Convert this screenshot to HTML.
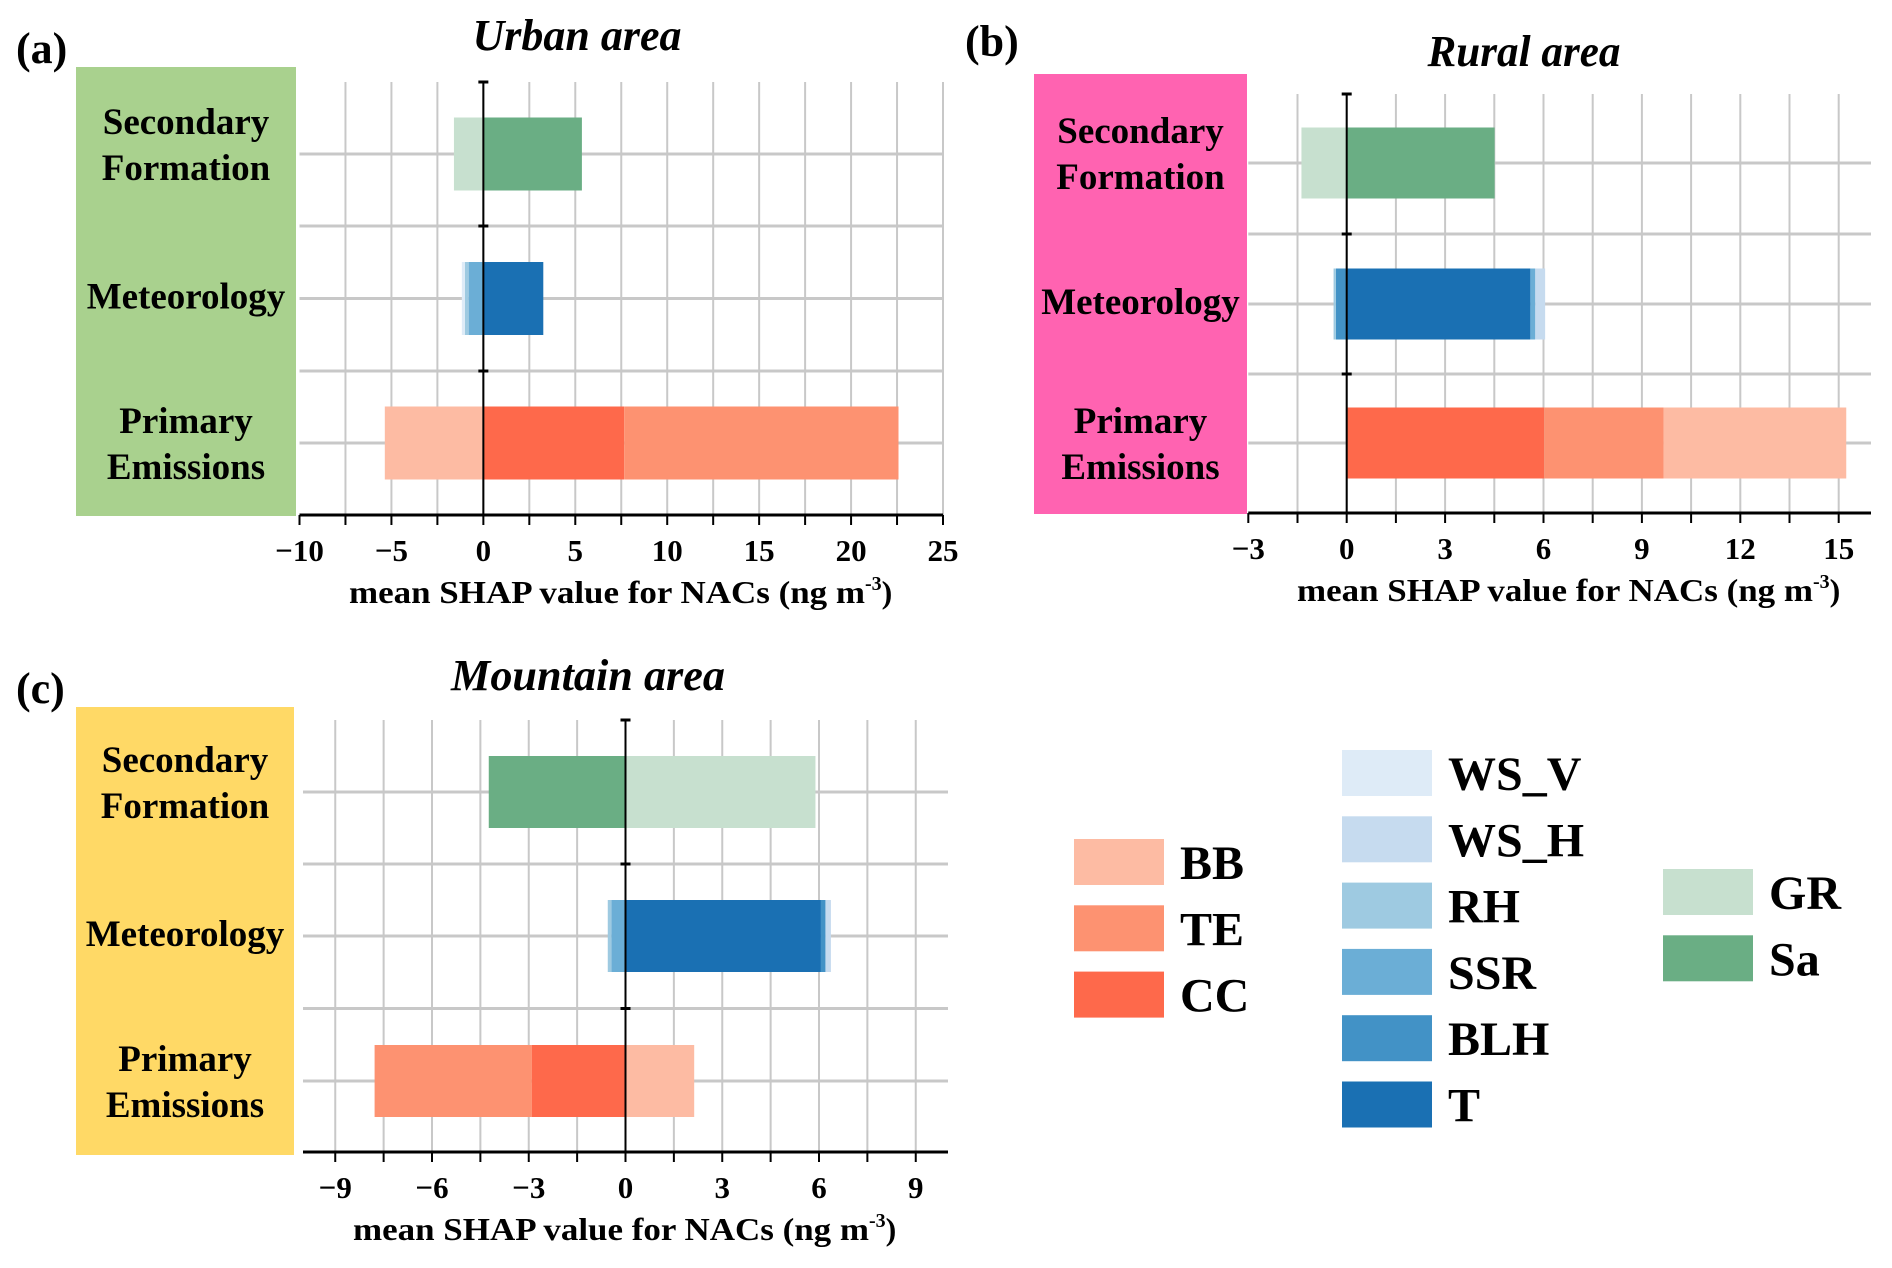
<!DOCTYPE html>
<html><head><meta charset="utf-8"><style>
html,body{margin:0;padding:0;background:#fff;}
svg{display:block;}
svg text{font-family:"Liberation Serif","Times New Roman",Times,serif;font-weight:bold;}
</style></head><body>
<svg id="fig" width="1892" height="1268" viewBox="0 0 1892 1268" xmlns="http://www.w3.org/2000/svg">
<g id="legend"></g>
</svg>
<script>
// ---- data ----
const categories = ["Secondary Formation", "Meteorology", "Primary Emissions"];
const seriesNames = {
  sec: ["Sa", "GR"],
  met: ["T", "BLH", "SSR", "RH", "WS_H", "WS_V"],
  pri: ["CC", "TE", "BB"]
};
const urbanSec = [5.36, -1.6];
const urbanMet = [3.26, 0, -0.8, -0.2, 0, -0.17];
const urbanPri = [7.66, 14.92, -5.36];
const ruralSec = [4.51, -1.38];
const ruralMet = [5.6, -0.33, 0.15, -0.07, 0.3, 0];
const ruralPri = [6.02, 3.64, 5.57];
const mountSec = [-4.24, 5.89];
const mountMet = [6.06, 0.14, -0.44, -0.11, 0.17, 0];
const mountPri = [-2.91, -4.87, 2.13];
const urbanTicks = [-10, -5, 0, 5, 10, 15, 20, 25];
const ruralTicks = [-3, 0, 3, 6, 9, 12, 15];
const mountTicks = [-9, -6, -3, 0, 3, 6, 9];

const colors = {Sa:"#6aae84",GR:"#c7e0cf",T:"#1a70b3",BLH:"#4292c6",SSR:"#6baed6",RH:"#9ecae1",WS_H:"#c6dbef",WS_V:"#deebf7",CC:"#fe694b",TE:"#fd9271",BB:"#fdbba3"};
const FONT = '"Liberation Serif","Times New Roman",Times,serif';

const NS = "http://www.w3.org/2000/svg";
const svg = document.getElementById("fig");
function el(tag, attrs, parent, text){
  const e = document.createElementNS(NS, tag);
  for (const k in attrs) e.setAttribute(k, attrs[k]);
  if (tag === "text") { e.setAttribute("font-family", FONT); e.setAttribute("font-weight", "bold"); }
  if (text !== undefined) e.textContent = text;
  (parent || svg).appendChild(e);
  return e;
}

function panel(cfg){
  const g = el("g", {});
  
  
  const sx = v => cfg.px0 + (v - cfg.d0) * (cfg.px1 - cfg.px0) / (cfg.d1 - cfg.d0);
  const box = el("rect", {x:cfg.box[0], y:cfg.box[1], width:cfg.box[2]-cfg.box[0], height:cfg.box[3]-cfg.box[1], fill:cfg.boxColor}, g);
  
  
  for (let v = cfg.gridStart; v <= cfg.gridEnd + 1e-6; v += cfg.minor) {
    const l = el("line", {x1:sx(v), x2:sx(v), y1:cfg.top, y2:cfg.axisY, stroke:"#c8c8c8", "stroke-width":2}, g);
    
    
  }
  const hy = [cfg.centers[0], cfg.seps[0], cfg.centers[1], cfg.seps[1], cfg.centers[2]];
  hy.forEach(y => {
    const l = el("line", {x1:cfg.hx0, x2:cfg.hx1, y1:y, y2:y, stroke:"#c8c8c8", "stroke-width":3}, g);
    
    
  });
  const groups = [[cfg.sec, seriesNames.sec], [cfg.met, seriesNames.met], [cfg.pri, seriesNames.pri]];
  groups.forEach((grp, ci) => {
    let pos = 0, neg = 0;
    grp[0].forEach((v, i) => {
      if (v === 0) return;
      let a, b;
      if (v > 0) { a = pos; b = pos + v; pos = b; } else { a = neg + v; b = neg; neg = a; }
      const r = el("rect", {x:sx(a), y:cfg.centers[ci]-cfg.half, width:Math.max(0, sx(b)-sx(a)), height:cfg.half*2, fill:colors[grp[1][i]]}, g);
      
      
    });
  });
  const z = el("line", {x1:sx(0), x2:sx(0), y1:cfg.top, y2:cfg.axisY, stroke:"#000", "stroke-width":2}, g);
  
  
  [cfg.top, cfg.seps[0], cfg.seps[1]].forEach(y => {
    const t = el("line", {x1:sx(0)-5, x2:sx(0)+5, y1:y, y2:y, stroke:"#000", "stroke-width":3}, g);
    
    
  });
  const ax = el("line", {x1:cfg.hx0, x2:cfg.hx1, y1:cfg.axisY, y2:cfg.axisY, stroke:"#000", "stroke-width":3}, g);
  
  
  for (let v = cfg.tickStart; v <= cfg.d1 + 1e-6; v += cfg.minor) {
    const t = el("line", {x1:sx(v), x2:sx(v), y1:cfg.axisY, y2:cfg.axisY+10, stroke:"#000", "stroke-width":2}, g);
    
    
  }
  cfg.ticks.forEach(v => {
    const t = el("text", {x:sx(v), y:cfg.axisY+46, "text-anchor":"middle", "font-size":31}, g, (v < 0 ? "\u2212" + (-v) : String(v)));
    
    
  });
  const at = el("text", {x:cfg.titleX - 271, y:cfg.axisY+88, "font-size":32}, g);
  
  
  el("tspan", {textLength:516, lengthAdjust:"spacingAndGlyphs"}, at, "mean SHAP value for NACs (ng m");
  el("tspan", {dy:-13, "font-size":20}, at, "-3");
  el("tspan", {dy:13}, at, ")");
  const pt = el("text", {x:cfg.titleCX - cfg.titleW/2, y:cfg.titleY, "font-size":44, "font-style":"italic", textLength:cfg.titleW, lengthAdjust:"spacingAndGlyphs"}, g, cfg.title);
  
  
  const pl = el("text", {x:cfg.letterX, y:cfg.letterY, "font-size":44}, g, cfg.letter);
  
  
  const bx = (cfg.box[0] + cfg.box[2]) / 2;
  const lines = [["Secondary", "Formation"], ["Meteorology"], ["Primary", "Emissions"]];
  const offs = [-20, 10, -10];
  lines.forEach((ls, ci) => {
    const c = cfg.centers[ci];
    ls.forEach((s, k) => {
      const y = c + offs[ci] + k * 46;
      const t = el("text", {x:bx, y:y, "text-anchor":"middle", "font-size":37}, g, s);
      
      
    });
  });
}

panel({name:"urban-panel", title:"Urban area", titleW:209, letter:"(a)", letterX:16, letterY:63, titleCX:577, titleY:50,
  box:[76,67,296,516], boxColor:"#a9d18e", d0:-10, d1:25, px0:299.5, px1:943, hx0:299.5, hx1:943,
  gridStart:-7.5, gridEnd:25, tickStart:-10, minor:2.5, ticks:urbanTicks, top:82, axisY:515,
  centers:[154,298.5,443], seps:[226,371], half:36.5, titleX:620,
  sec:urbanSec, met:urbanMet, pri:urbanPri});
panel({name:"rural-panel", title:"Rural area", titleW:193, letter:"(b)", letterX:965, letterY:56, titleCX:1524, titleY:66,
  box:[1034,74,1247,514], boxColor:"#ff63b1", d0:-3, d1:16, px0:1248.3, px1:1871.5, hx0:1248.3, hx1:1871,
  gridStart:-1.5, gridEnd:15, tickStart:-3, minor:1.5, ticks:ruralTicks, top:94, axisY:513,
  centers:[163,304,443], seps:[234,374], half:35.5, titleX:1568,
  sec:ruralSec, met:ruralMet, pri:ruralPri});
panel({name:"mountain-panel", title:"Mountain area", titleW:274, letter:"(c)", letterX:16, letterY:703, titleCX:588, titleY:690,
  box:[76,707,294,1155], boxColor:"#ffd966", d0:-10, d1:10, px0:303, px1:948, hx0:303, hx1:948,
  gridStart:-9, gridEnd:9, tickStart:-9, minor:1.5, ticks:mountTicks, top:720, axisY:1152,
  centers:[792,936,1081], seps:[864,1008.5], half:36, titleX:624,
  sec:mountSec, met:mountMet, pri:mountPri});

const legendCols = [
  {x:1074, y0:839, names:["BB","TE","CC"]},
  {x:1342, y0:750, names:["WS_V","WS_H","RH","SSR","BLH","T"]},
  {x:1663, y0:869, names:["GR","Sa"]}
];
const lg = document.getElementById("legend");
legendCols.forEach(col => {
  col.names.forEach((n, i) => {
    const y = col.y0 + i * 66.3;
    const r = el("rect", {x:col.x, y:y, width:90, height:46, fill:colors[n]}, lg);
    
    
    const t = el("text", {x:col.x + 106, y:y + 40, "font-size":48}, lg, n);
    
    
  });
});
</script>
</body></html>
